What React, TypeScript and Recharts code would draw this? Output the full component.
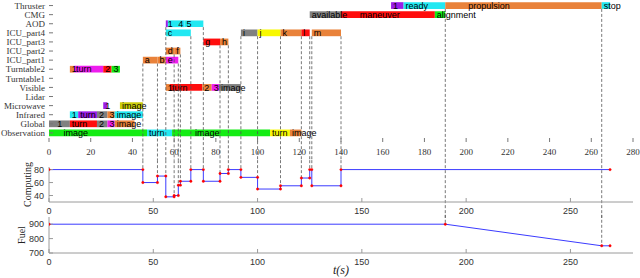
import React from 'react'
import { ComposedChart, XAxis, YAxis, Line, ReferenceArea, ReferenceLine } from 'recharts'

const rowNames = ['Observation', 'Global', 'Infrared', 'Microwave', 'Lidar', 'Visible', 'Turntable1', 'Turntable2',
    'ICU_part1', 'ICU_part2', 'ICU_part3', 'ICU_part4', 'AOD', 'CMG', 'Thruster']
const rowTicks = rowNames.map((_, i) => i)
const topTicks = [0, 20, 40, 60, 80, 100, 120, 140, 160, 180, 200, 220, 240, 260, 280]
const lowTicks = [0, 50, 100, 150, 200, 250]

// row, start, end, colour kind, text, time where the text starts (optional)
type Seg = [number, number, number, string, string, number?]
const segments: Seg[] = [
    [0, 0, 47, 'g', 'image', 6], [0, 47, 59, 'c', 'turn'], [0, 59, 106, 'g', 'image', 69], [0, 106, 115.5, 'y', 'turn'], [0, 115.5, 121, 'o', 'image'],
    [1, 0, 10, 'k', '1', 3], [1, 10, 23, 'r', 'turn'], [1, 23, 28, 'k', '2'], [1, 28, 31.5, 'm', '3'], [1, 31.5, 41, 'o', 'image'],
    [2, 10, 14, 'c', '1'], [2, 14, 23, 'p', 'turn'], [2, 23, 28, 'k', '2'], [2, 28, 31.5, 'o', '3'], [2, 31.5, 45, 'c', 'image'],
    [3, 26, 28, 'p', '1'], [3, 34, 45, 'v', 'image'],
    [5, 56, 58, 'o', '1'], [5, 58, 73.5, 'r', 'turn'], [5, 73.5, 78, 'o', '2'], [5, 78, 81.5, 'm', '3'], [5, 81.5, 92, 'k', 'image'],
    [7, 10, 12, 'o', '1'], [7, 12, 26, 'm', 'turn'], [7, 26, 30, 'r', '2'], [7, 30, 34, 'g', '3'],
    [8, 45, 52, 'o', 'a'], [8, 52, 56, 'o', 'b'], [8, 56, 62, 'm', 'e'],
    [9, 56, 60, 'o', 'd'], [9, 60, 63, 'o', 'f'],
    [10, 74, 82, 'r', 'g'], [10, 82, 86, 'o', 'h'],
    [11, 56, 68, 'c', 'c'], [11, 92, 100, 'k', 'i'], [11, 100, 111, 'y', 'j'], [11, 111, 121, 'o', 'k'], [11, 121, 125, 'r', 'l'], [11, 126, 140, 'o', 'm'],
    [12, 56, 57, 'p', '1'], [12, 57, 65, 'c', '4', 61], [12, 65, 74, 'c', '5'],
    [13, 125, 140, 'k', 'available'], [13, 140, 185, 'r', 'maneuver', 148], [13, 185, 190, 'g', 'alignment'],
    [14, 164, 170, 'p', '1'], [14, 170, 190, 'c', 'ready'], [14, 190, 265, 'o', 'propulsion', 200], [14, 265, 269, 'c', 'stop'],
]

// event times and the row each dashed marker drops from
const evT = [45, 52, 56, 60, 62, 63, 68, 74, 82, 86, 92, 100, 111, 121, 125, 126, 140, 190, 265]
const evRow = [8, 8, 12, 9, 8, 9, 11, 12, 10, 10, 11, 11, 11, 11, 11, 11, 11, 14, 14]

const compT = [0, 45, 52, 56, 60, 62, 63, 68, 74, 82, 86, 92, 100, 111, 121, 125, 126, 140, 269]
const compV = [80, 60, 70, 38, 40, 56, 62, 80, 62, 74, 80, 68, 50, 55, 67, 80, 55, 80, 80]

const fuelT = [0, 190, 265, 269]
const fuelV = [900, 900, 750, 750]

const palette: Record<string, string> = {
    g: '#14ec14', c: '#22e8f2', y: '#f8f800', o: '#e9823a', k: '#808080', r: '#ff0d0d',
    m: '#ee1cee', p: '#9b1ee6', v: '#cdcd0a',
}

const serif = '"Liberation Serif", "Times New Roman", serif'
const sans = '"Liberation Sans", Arial, sans-serif'
const boxColor = '#9a9a9a'
const dashColor = '#555'

const compPts: { t: number; v: number }[] = []
for (let i = 0; i < compT.length - 1; i++) {
    compPts.push({ t: compT[i], v: compV[i] })
    compPts.push({ t: compT[i + 1], v: compV[i] })
}
const fuelPts = fuelT.map((t, i) => ({ t, v: fuelV[i] }))

function SegText({ viewBox, seg }: any) {
    const [, s, e, , text, at] = seg as Seg
    const frac = at == null ? 0 : (at - s) / (e - s)
    return (
        <text x={viewBox.x + viewBox.width * frac + 2} y={viewBox.y + viewBox.height / 2} dy="0.36em"
            fontSize={9} fontFamily={sans} fill="#000">{text}</text>
    )
}

function VTitle({ viewBox, text, dx }: any) {
    const x = viewBox.x + dx
    const y = viewBox.y + viewBox.height / 2
    return (
        <text x={x} y={y} transform={`rotate(-90 ${x} ${y})`} textAnchor="middle" fontSize={10}
            fontFamily={serif} fill="#222">{text}</text>
    )
}

function XTitle({ viewBox }: any) {
    return (
        <text x={viewBox.x + viewBox.width / 2} y={viewBox.y + 21} textAnchor="middle" fontSize={12}
            fontStyle="italic" fontFamily={serif} fill="#222">t(s)</text>
    )
}

const lowTick = { fontSize: 9, fontFamily: sans, fill: '#333' }

function Boxed({ pts, domain, yTicks, title, titleDx, height, top, bottomH, children, xTitle }: any) {
    return (
        <ComposedChart width={640} height={height} data={pts} margin={{ top, right: 7, bottom: 0, left: 0 }}>
            <XAxis type="number" dataKey="t" domain={[0, 280]} ticks={lowTicks} interval={0} allowDataOverflow
                stroke={boxColor} tickSize={-4} tickMargin={10} height={bottomH} tick={lowTick}
                label={xTitle ? <XTitle /> : undefined} />
            <XAxis xAxisId="top" orientation="top" type="number" dataKey="t" domain={[0, 280]} ticks={lowTicks}
                interval={0} allowDataOverflow stroke={boxColor} tickSize={-4} height={0} tickFormatter={() => ''} />
            <YAxis type="number" domain={domain} ticks={yTicks} interval={0} allowDataOverflow stroke={boxColor}
                tickSize={-4} tickMargin={9} width={49} tick={lowTick} label={<VTitle text={title} dx={titleDx} />} />
            <YAxis yAxisId="r" orientation="right" type="number" domain={domain} ticks={yTicks} interval={0}
                allowDataOverflow stroke={boxColor} tickSize={-4} width={0} tickFormatter={() => ''} />
            {children}
            <Line type="linear" dataKey="v" stroke="#3b3bff" strokeWidth={1} isAnimationActive={false}
                dot={{ r: 1.2, fill: '#ff0000', stroke: '#ff0000', strokeWidth: 0.4 }} />
        </ComposedChart>
    )
}

export default function App() {
    return (
        <div style={{ position: 'absolute', left: 0, top: 0, width: 640, height: 278, background: '#fff' }}>
            <div style={{ position: 'absolute', left: 0, top: 0 }}>
                <ComposedChart width={640} height={160} data={[]} margin={{ top: 1, right: 7, bottom: 0, left: 0 }}>
                    <XAxis type="number" dataKey="t" domain={[0, 280]} ticks={topTicks} interval={0} allowDataOverflow
                        axisLine={false} tickSize={-4} tickMargin={11} height={18} tickLine={{ stroke: '#777' }}
                        tick={{ fontSize: 9, fontFamily: serif, fill: '#333' }} />
                    <YAxis type="number" domain={[-1, 14.5]} ticks={rowTicks} interval={0} allowDataOverflow
                        axisLine={false} tickSize={-4} tickMargin={8} width={49} tickLine={{ stroke: '#777' }}
                        tickFormatter={(i: number) => rowNames[i]}
                        tick={{ fontSize: 9, fontFamily: serif, fill: '#333' }} />
                    {segments.map((s, i) => (
                        <ReferenceArea key={'a' + i} x1={s[1]} x2={s[2]} y1={s[0] - 0.37} y2={s[0] + 0.37}
                            fill={palette[s[3]]} fillOpacity={1} stroke="none" ifOverflow="visible" />
                    ))}
                    {evT.map((t, i) => (
                        <ReferenceLine key={'e' + i} segment={[{ x: t, y: evRow[i] - 0.37 }, { x: t, y: -5 }]}
                            stroke={dashColor} strokeWidth={0.8} strokeDasharray="3 2" ifOverflow="visible" />
                    ))}
                    {segments.map((s, i) => (
                        <ReferenceArea key={'l' + i} x1={s[1]} x2={s[2]} y1={s[0] - 0.37} y2={s[0] + 0.37}
                            fill="none" fillOpacity={0} stroke="none" ifOverflow="visible"
                            label={<SegText seg={s} />} />
                    ))}
                </ComposedChart>
            </div>
            <div style={{ position: 'absolute', left: 0, top: 158 }}>
                <Boxed pts={compPts} domain={[30, 84]} yTicks={[40, 60, 80]} title="Computing" titleDx={31}
                    height={60} top={9} bottomH={16}>
                    {evT.map((t, i) => {
                        const k = compT.indexOf(t)
                        const end = k > 0 ? Math.max(compV[k - 1], compV[k]) : 0
                        return (
                            <ReferenceLine key={'c' + i} segment={[{ x: t, y: 110 }, { x: t, y: end }]}
                                stroke={dashColor} strokeWidth={0.8} strokeDasharray="3 2" ifOverflow="visible" />
                        )
                    })}
                </Boxed>
            </div>
            <div style={{ position: 'absolute', left: 0, top: 214 }}>
                <Boxed pts={fuelPts} domain={[700, 950]} yTicks={[700, 800, 900]} title="Fuel" titleDx={25}
                    height={64} top={3} bottomH={25} xTitle>
                    {evT.filter((t) => t > 0 && fuelT.includes(t)).map((t, i) => (
                        <ReferenceLine key={'f' + i} segment={[{ x: t, y: 1000 }, { x: t, y: fuelV[fuelT.indexOf(t)] }]}
                            stroke={dashColor} strokeWidth={0.8} strokeDasharray="3 2" ifOverflow="visible" />
                    ))}
                </Boxed>
            </div>
        </div>
    )
}
